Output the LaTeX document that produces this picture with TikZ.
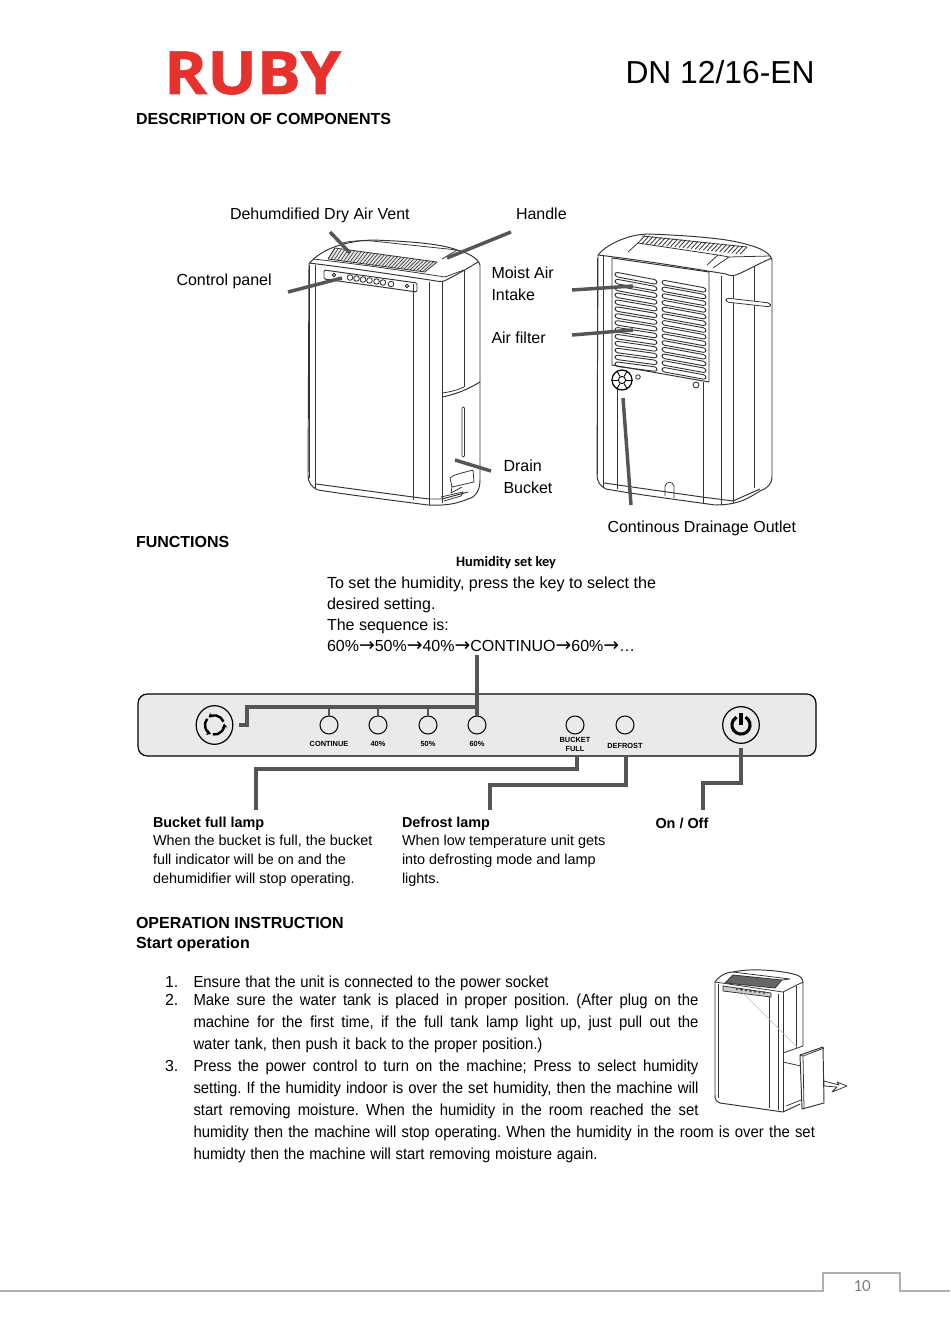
\documentclass[tikz,border=0pt]{standalone}
\usepackage{fontspec}
\setmainfont{Liberation Sans}
\newfontfamily\carl{Carlito}
\newfontfamily\dv{DejaVu Sans}
\newfontfamily\cond[FakeStretch=0.93]{Liberation Sans}
\newfontfamily\logofont[FakeStretch=1.1,FakeBold=0.9]{Open Sans}
\usetikzlibrary{arrows.meta,shapes.geometric}
\definecolor{leadc}{HTML}{555555}
\definecolor{rubyred}{HTML}{E5322D}
\definecolor{foot}{HTML}{B0B0B0}
\definecolor{panelc}{HTML}{EAEAEA}
\newcommand\fpx[1]{\fontsize{\fpeval{#1*0.75}pt}{\fpeval{#1*0.9}pt}\selectfont}
\newcommand\jbox[2]{\hbox to #1\dimexpr0.75pt\relax{\frenchspacing\spaceskip=.2em plus 1fil minus .1em #2}}
\newcommand\arr{{\dv\fpx{18.8}→}}
\tikzset{
  x=0.75pt,y=-0.75pt,
  txt/.style={anchor=base west,inner sep=0pt,outer sep=0pt},
  ctxt/.style={anchor=base,inner sep=0pt,outer sep=0pt,align=center},
  lab/.style={txt,font=\fpx{16}},
  hd/.style={txt,font=\fpx{16}\bfseries},
  smalltxt/.style={txt,font=\fpx{14.4}},
  smallb/.style={txt,font=\fpx{14.4}\bfseries},
  bodytxt/.style={txt,font=\cond\fpx{16}},
  tinytxt/.style={ctxt,font=\fpx{7.4}\bfseries},
  lead/.style={draw=leadc,line width=2.6pt,line cap=butt,line join=miter},
  outl/.style={draw=black!80,line width=0.72pt,line join=round},
  thn/.style={draw=black!80,line width=0.58pt,line join=round},
  lamp/.style={circle,draw=black,line width=0.75pt,minimum size=13.5pt,inner sep=0pt,outer sep=0pt},
  keyc/.style={circle,draw=black,line width=0.9pt,minimum size=27.5pt,inner sep=0pt,outer sep=0pt},
  btn/.style={circle,draw=black!85,line width=0.6pt,minimum size=4.2pt,inner sep=0pt,outer sep=0pt},
}
\begin{document}
\begin{tikzpicture}
\useasboundingbox (0,0) rectangle (950,1341);
\fill[white] (0,0) rectangle (950,1341);

% header
\node[txt,text=rubyred,font=\logofont\fontsize{44.7pt}{46pt}\selectfont\bfseries] (logo) at (164,94) {RUBY};
\node[txt,font=\fpx{31.8}] (model) at (625.5,84) {DN 12/16-EN};
\node[hd] (h1) at (136,125) {DESCRIPTION OF COMPONENTS};

% ---------- front unit
\draw[outl,fill=white] (309,264) .. controls (318,252) and (340,241) .. (373,240) .. controls (400,241) and (440,243) .. (457,250) .. controls (468,253) and (478,258) .. (480,265) -- (480,480) .. controls (480,490) and (476,497) .. (468,499) .. controls (458,503) and (448,506) .. (428,505) .. controls (390,500) and (350,495) .. (318,490) .. controls (311,487) and (308,482) .. (308,475) -- cycle;
\draw[outl] (309,263) .. controls (350,268) and (390,274) .. (430,280) .. controls (436,281) and (440,282) .. (444,281) .. controls (455,276) and (468,268) .. (478,262);
\draw[thn] (313,259) .. controls (350,263) and (400,270) .. (445,277);
\draw[thn] (445,277) -- (464,270);
\draw[thn] (340,244) .. controls (345,241) and (365,240) .. (372,241) -- (457,250) -- (442,259);
\draw[thn] (315,265) -- (315,488);
\draw[thn] (309,265) -- (309,478);
\draw[outl] (413,284) -- (413,500);
\draw[outl] (429,282) -- (429,505);
\draw[outl] (442,281) -- (442,503);
\draw[thn] (464,270) -- (464,387);
\draw[outl] (442,397) .. controls (458,394) and (470,388) .. (480,382);
\draw[thn] (442,393) .. controls (450,392) and (458,390) .. (464,387);
\draw[outl] (316,484) -- (413,497) -- (429,499) -- (442,499) -- (468,492);
% grille
\draw[thn,fill=black!10] (335,248) -- (437,262) -- (425,272) -- (328,259) -- cycle;
\foreach \i in {0,...,30} {
  \draw[thn,line width=0.45pt] ({335+\i*3.3},{248+\i*0.45}) -- ({328+\i*3.16},{259+\i*0.42});
}
% control panel
\draw[outl,rounded corners=1pt] (324,270) -- (417,283) -- (417,292) -- (324,279) -- cycle;
\node[btn] (fb1) at (350,277.5) {};
\node[btn] (fb2) at (356.5,278.5) {};
\node[btn] (fb3) at (363,279.5) {};
\node[btn] (fb4) at (369.5,280.5) {};
\node[btn] (fb5) at (376.5,281.5) {};
\node[btn] (fb6) at (383,282.5) {};
\node[btn] (fb7) at (391,284) {};
\node[btn,minimum size=2.6pt] (fb8) at (334,275) {};
\node[btn,minimum size=2.6pt] (fb9) at (407,286) {};
% slot and bucket handle
\draw[thn,rounded corners=0.8pt] (462,407) rectangle (464.5,457);
\draw[thn] (450,478) .. controls (452,475) and (462,473) .. (473,470) -- (474,482) -- (452,487) -- cycle;
\draw[thn] (452,487) -- (451,493) -- (462,487);
\draw[thn] (441,497) -- (463,492) -- (461,496) -- (444,501);

% ---------- rear unit
\draw[outl,fill=white] (598,255) .. controls (605,246) and (625,235) .. (647,234) .. controls (680,235) and (720,238) .. (737,242) .. controls (755,246) and (770,251) .. (772,260) -- (772,476) .. controls (772,484) and (768,488) .. (760,491) .. controls (750,497) and (740,505) .. (715,505) .. controls (680,500) and (640,495) .. (606,489) .. controls (600,486) and (597,482) .. (597,474) -- cycle;
\draw[outl] (598,255) .. controls (640,260) and (690,268) .. (726,274) .. controls (730,276) and (733,276) .. (736,275) .. controls (748,270) and (762,262) .. (772,258);
\draw[thn] (603,256) -- (603,488);
\draw[thn] (597,258) -- (597,474);
\draw[outl] (721,276) -- (721,505);
\draw[outl] (733,276) -- (733,503);
\draw[thn] (754,266) -- (754,488);
\draw[thn] (703,382) -- (703,503);
\draw[thn] (617,388) -- (617,489);
\draw[outl] (604,483) -- (702,497) -- (733,501) -- (760,489);
% top recess and top grille
\draw[thn] (628,252) -- (638,243) -- (718,255) -- (707,265);
\draw[thn] (642,236) -- (747,247);
\draw[thn] (718,255) -- (729,257) -- (713,268);
\draw[thn] (729,257) -- (770,256);
\foreach \i in {0,...,25} {
  \draw[thn,line width=0.6pt] ({645+\i*4.08},{235.5+\i*0.45}) -- ({638+\i*4.08},{243+\i*0.45});
}
% rear grille
\draw[outl] (612,258) -- (709,272) -- (709,382) -- (612,365) -- cycle;
\foreach \r in {0,...,13} {
  \draw[thn,line width=0.68pt,rounded corners=2pt] ({615},{272+\r*6.9}) -- ({657},{280+\r*6.7}) -- ({657},{284.5+\r*6.7}) -- ({615},{276.5+\r*6.9}) -- cycle;
  \draw[thn,line width=0.68pt,rounded corners=2pt] ({662},{280+\r*6.7}) -- ({706},{288+\r*6.7}) -- ({706},{292.5+\r*6.7}) -- ({662},{284.5+\r*6.7}) -- cycle;
}
% knob
\node[circle,draw=black,line width=0.9pt,fill=white,minimum size=15pt,inner sep=0pt] (knob) at (622,380) {};
\node[circle,draw=black,line width=0.7pt,minimum size=5.4pt,inner sep=0pt] (knobc) at (622,380) {};
\foreach \a in {0,60,...,300} { \draw[line width=0.7pt] (knobc.\a) -- (knob.\a); }
\node[btn,minimum size=3.4pt] (rb1) at (638,377) {};
\node[btn,minimum size=4.4pt] (rb2) at (696,385) {};
% carrying handle and notch
\draw[thn,fill=white,rounded corners=2pt] (726,298) -- (770,303) -- (771,307) -- (726,302) -- cycle;
\draw[thn] (665,496) -- (665,486) .. controls (666,481) and (673,481) .. (674,486) -- (674,498);

% leaders (upper)
\coordinate (a1) at (330,232); \coordinate (a2) at (350,253);
\draw[lead] (a1) -- (a2);
\coordinate (b1) at (511,232); \coordinate (b2) at (447,258);
\draw[lead] (b1) -- (b2);
\coordinate (c1) at (288,292); \coordinate (c2) at (342,278);
\draw[lead] (c1) -- (c2);
\coordinate (d1) at (455,460); \coordinate (d2) at (491,471);
\draw[lead] (d1) -- (d2);
\coordinate (e1) at (572,290); \coordinate (e2) at (633,286);
\draw[lead] (e1) -- (e2);
\coordinate (f1) at (572,335); \coordinate (f2) at (633,330);
\draw[lead] (f1) -- (f2);
\coordinate (g1) at (623,398); \coordinate (g2) at (631,505);
\draw[lead] (g1) -- (g2);

% labels
\node[lab] (l1) at (230,220) {Dehumdified Dry Air Vent};
\node[lab] (l2) at (516,220) {Handle};
\node[lab] (l3) at (176.5,285) {Control panel};
\node[lab] (l4) at (491.5,278.5) {Moist Air};
\node[lab] (l5) at (491.5,300.5) {Intake};
\node[lab] (l6) at (491.5,343) {Air filter};
\node[lab] (l7) at (503.5,471) {Drain};
\node[lab] (l8) at (503.5,493) {Bucket};
\node[lab] (l9) at (607.5,532) {Continous Drainage Outlet};
\node[hd] (h2) at (136,547) {FUNCTIONS};

\node[txt,font=\carl\fpx{14.4}\bfseries] (k0) at (456,566) {Humidity set key};
\node[lab,font=\fpx{16.1}] (k1) at (327,588) {To set the humidity, press the key to select the};
\node[lab] (k2) at (327,609) {desired setting.};
\node[lab] (k3) at (327,630) {The sequence is:};
\node[lab] (k4) at (327,651) {60\%\arr50\%\arr40\%\arr CONTINUO\arr60\%\arr…};

% ---------- control panel diagram
\draw[line width=0.9pt,fill=panelc,rounded corners=7pt] (138,694) rectangle (816,756);
\node[lamp] (lc) at (329,725) {};
\node[lamp] (l40) at (378,725) {};
\node[lamp] (l50) at (428,725) {};
\node[lamp] (l60) at (477,725) {};
\node[lamp] (lb) at (575,725) {};
\node[lamp] (ld) at (625,725) {};
\node[draw=black,line width=0.9pt,ellipse,minimum width=27.5pt,minimum height=29pt,inner sep=0pt] (kh) at (214.5,725) {};
\node[keyc] (kp) at (741,725) {};
\node[tinytxt] (t1) at (329,746) {CONTINUE};
\node[tinytxt] (t2) at (378,746) {40\%};
\node[tinytxt] (t3) at (428,746) {50\%};
\node[tinytxt] (t4) at (477,746) {60\%};
\node[tinytxt] (t5) at (575,742) {BUCKET};
\node[tinytxt] (t6) at (575,751) {FULL};
\node[tinytxt] (t7) at (625,748) {DEFROST};
% icons
\foreach \a in {20,140,260} {
  \draw[line width=1.8pt,-{Stealth[length=3.2pt,width=4.2pt]}] (kh.center) ++(\a:7.2pt) arc[start angle=\a,end angle=\a+108,radius=7.2pt];
}
\draw[line width=2.3pt] (kp.center) ++(60:6.8pt) arc[start angle=60,end angle=-240,radius=6.8pt];
\draw[line width=2.3pt] (741,713) -- (kp.center);

% panel leaders
\coordinate (m0) at (477,655);
\coordinate (m1) at (477,707);
\coordinate (m2) at (247,707);
\coordinate (m3) at (247,725);
\coordinate (m4) at (239,725);
\coordinate (mc) at (329,707);
\coordinate (m40) at (378,707);
\coordinate (m50) at (428,707);
\draw[lead] (m0) -- (l60.north);
\draw[lead] (m1) -- (m2) -- (m3) -- (m4);
\draw[lead,line width=1.5pt] (mc) -- (lc.north);
\draw[lead,line width=1.5pt] (m40) -- (l40.north);
\draw[lead,line width=1.5pt] (m50) -- (l50.north);

\coordinate (n0) at (577,755); \coordinate (n1) at (577,769); \coordinate (n2) at (256,769); \coordinate (n3) at (256,810);
\draw[lead] (n0) -- (n1) -- (n2) -- (n3);
\coordinate (o0) at (626,755); \coordinate (o1) at (626,785); \coordinate (o2) at (490,785); \coordinate (o3) at (490,810);
\draw[lead] (o0) -- (o1) -- (o2) -- (o3);
\coordinate (p0) at (741,748); \coordinate (p1) at (741,783); \coordinate (p2) at (703,783); \coordinate (p3) at (703,810);
\draw[lead] (p0) -- (p1) -- (p2) -- (p3);

% lamp descriptions
\node[smallb] (q1) at (153,827) {Bucket full lamp};
\node[smalltxt] (q2) at (153,845.5) {When the bucket is full, the bucket};
\node[smalltxt] (q3) at (153,864.5) {full indicator will be on and the};
\node[smalltxt] (q4) at (153,883.5) {dehumidifier will stop operating.};
\node[smallb] (r1) at (402,827) {Defrost lamp};
\node[smalltxt] (r2) at (402,845.5) {When low temperature unit gets};
\node[smalltxt] (r3) at (402,864.5) {into defrosting mode and lamp};
\node[smalltxt] (r4) at (402,883.5) {lights.};
\node[smallb] (s1) at (655.5,828) {On / Off};

% operation
\node[hd] (h3) at (136,928) {OPERATION INSTRUCTION};
\node[hd] (h4) at (136,948) {Start operation};
\node[lab] (n1a) at (165,987) {1.};
\node[lab] (n2a) at (165,1005) {2.};
\node[lab] (n3a) at (165,1071) {3.};
\node[bodytxt] (u1) at (193.5,987) {\jbox{355}{Ensure that the unit is connected to the power socket}};
\node[bodytxt] (u2) at (193.5,1005) {\jbox{505}{Make sure the water tank is placed in proper position. (After plug on the}};
\node[bodytxt] (u3) at (193.5,1027) {\jbox{505}{machine for the first time, if the full tank lamp light up, just pull out the}};
\node[bodytxt] (u4) at (193.5,1049) {\jbox{349}{water tank, then push it back to the proper position.)}};
\node[bodytxt] (u5) at (193.5,1071) {\jbox{505}{Press the power control to turn on the machine; Press to select humidity}};
\node[bodytxt] (u6) at (193.5,1093) {\jbox{505}{setting. If the humidity indoor is over the set humidity, then the machine will}};
\node[bodytxt] (u7) at (193.5,1115) {\jbox{505}{start removing moisture. When the humidity in the room reached the set}};
\node[bodytxt] (u8) at (193.5,1137) {\jbox{621.5}{humidity then the machine will stop operating. When the humidity in the room is over the set}};
\node[bodytxt] (u9) at (193.5,1159) {\jbox{404}{humidty then the machine will start removing moisture again.}};

% ---------- small pull-out unit
\fill[white] (715,982) -- (803,982) -- (803,1105) -- (783,1112) -- (720,1103) -- cycle;
\draw[outl] (803,1046) -- (803,984) .. controls (803,980) and (802,977) .. (797,975) .. controls (780,970) and (750,968) .. (733,972) .. controls (727,972) and (720,975) .. (715,982) -- (715,1095) .. controls (715,1100) and (716,1101) .. (720,1103) -- (783,1112) -- (800,1104);
\draw[thn] (718,984) -- (718,1098);
\draw[thn] (715,982) -- (783,992) -- (803,982);
\draw[thn] (769,997) -- (769,1108);
\draw[thn] (778,994) -- (778,1110);
\draw[thn] (783,992) -- (783,1112);
\draw[thn] (796,986) -- (796,1048);
\draw[thn,fill=black!60] (733,975) -- (782,980) -- (775,988) -- (725,983) -- cycle;
\draw[thn] (733,972) -- (790,979) -- (782,980);
\draw[thn,fill=black!20] (723,986) -- (771,993) -- (771,997) -- (723,991) -- cycle;
\foreach \i in {0,...,6} { \fill[black!70] ({737+\i*4.5},{989+\i*0.6}) circle (1.1pt); }
\draw[black!25,line width=0.3pt] (743,993) -- (797,1047);
\draw[thn] (783,1053) -- (803,1046);
\draw[thn] (783,1062) -- (801,1066);
\draw[thn] (786,1106) -- (801,1100);
\draw[outl,fill=white] (800,1055) -- (823,1047) -- (824,1103) -- (802,1109) -- cycle;
\draw[thn] (800,1055) -- (803,1056) -- (824,1048);
\draw[thn] (803,1056) -- (804,1108);
% pull arrow
\draw[thn,fill=white] (824,1081) -- (839,1085) -- (837,1082) -- (847,1086) -- (832,1092) -- (837,1087) -- (824,1086) -- cycle;

% footer
\coordinate (z0) at (0,1291); \coordinate (z1) at (823,1291); \coordinate (z2) at (823,1273); \coordinate (z3) at (900,1273); \coordinate (z4) at (900,1291); \coordinate (z5) at (950,1291);
\draw[foot,line width=0.9pt] (z0) -- (z1) -- (z2) -- (z3) -- (z4) -- (z5);
\node[txt,text=black!50,font=\carl\fpx{17}] (pg) at (853.5,1291) {10};
\end{tikzpicture}
\end{document}
